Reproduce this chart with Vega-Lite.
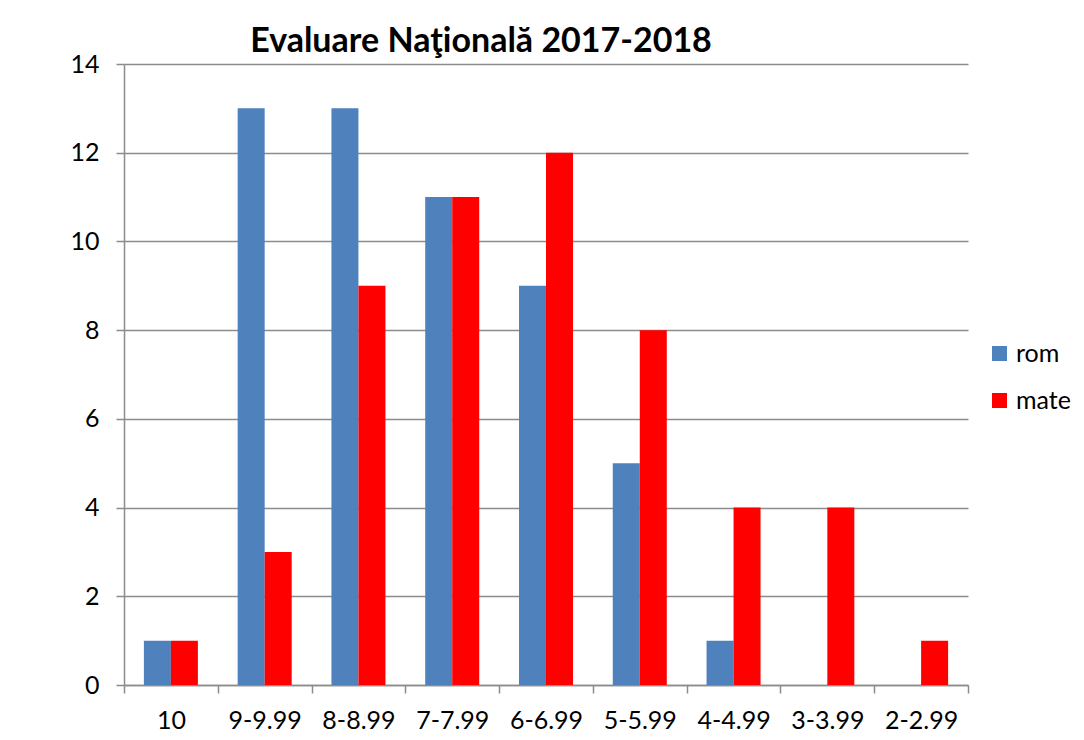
{
  "$schema": "https://vega.github.io/schema/vega-lite/v6.json",
  "autosize": "none",
  "width": 844,
  "height": 621,
  "padding": {"left": 124, "top": 64, "right": 116, "bottom": 55},
  "background": "white",
  "title": {
    "text": "Evaluare Naţională 2017-2018",
    "font": "Lato",
    "fontSize": 34,
    "fontWeight": "bold",
    "color": "#000000",
    "anchor": "middle",
    "dx": -65,
    "offset": -7
  },
  "data": {
    "values": [
      {"cat": "10", "series": "rom", "value": 1},
      {"cat": "10", "series": "mate", "value": 1},
      {"cat": "9-9.99", "series": "rom", "value": 13},
      {"cat": "9-9.99", "series": "mate", "value": 3},
      {"cat": "8-8.99", "series": "rom", "value": 13},
      {"cat": "8-8.99", "series": "mate", "value": 9},
      {"cat": "7-7.99", "series": "rom", "value": 11},
      {"cat": "7-7.99", "series": "mate", "value": 11},
      {"cat": "6-6.99", "series": "rom", "value": 9},
      {"cat": "6-6.99", "series": "mate", "value": 12},
      {"cat": "5-5.99", "series": "rom", "value": 5},
      {"cat": "5-5.99", "series": "mate", "value": 8},
      {"cat": "4-4.99", "series": "rom", "value": 1},
      {"cat": "4-4.99", "series": "mate", "value": 4},
      {"cat": "3-3.99", "series": "rom", "value": 0},
      {"cat": "3-3.99", "series": "mate", "value": 4},
      {"cat": "2-2.99", "series": "rom", "value": 0},
      {"cat": "2-2.99", "series": "mate", "value": 1}
    ]
  },
  "mark": {"type": "bar"},
  "encoding": {
    "x": {
      "field": "cat",
      "type": "nominal",
      "sort": null,
      "scale": {"paddingInner": 0, "paddingOuter": 0},
      "axis": {
        "title": null,
        "labelAngle": 0,
        "labelFont": "Lato",
        "labelFontSize": 25,
        "labelColor": "#000000",
        "labelPadding": 15,
        "tickBand": "extent",
        "tickSize": 8,
        "tickColor": "#8c8c8c",
        "tickWidth": 1.5,
        "domainColor": "#8c8c8c",
        "domainWidth": 1.5,
        "grid": false
      }
    },
    "xOffset": {
      "field": "series",
      "type": "nominal",
      "sort": ["rom", "mate"],
      "scale": {"paddingInner": 0, "paddingOuter": 0.736}
    },
    "y": {
      "field": "value",
      "type": "quantitative",
      "scale": {"domain": [0, 14], "nice": false},
      "axis": {
        "title": null,
        "values": [0, 2, 4, 6, 8, 10, 12, 14],
        "labelFont": "Lato",
        "labelFontSize": 25,
        "labelColor": "#000000",
        "labelPadding": 17,
        "tickSize": 8,
        "tickColor": "#8c8c8c",
        "tickWidth": 1.5,
        "domainColor": "#8c8c8c",
        "domainWidth": 1.5,
        "grid": true,
        "gridColor": "#8c8c8c",
        "gridWidth": 1.5
      }
    },
    "color": {
      "field": "series",
      "type": "nominal",
      "sort": ["rom", "mate"],
      "scale": {"domain": ["rom", "mate"], "range": ["#4F81BD", "#FF0000"]},
      "legend": {
        "title": null,
        "orient": "none",
        "legendX": 863,
        "legendY": 277,
        "padding": 0,
        "symbolType": "square",
        "symbolSize": 225,
        "symbolStrokeWidth": 0,
        "labelFont": "Lato",
        "labelFontSize": 25,
        "labelColor": "#000000",
        "labelOffset": 4,
        "rowPadding": 21
      }
    }
  },
  "config": {
    "view": {"stroke": null},
    "bar": {"stroke": null}
  }
}
